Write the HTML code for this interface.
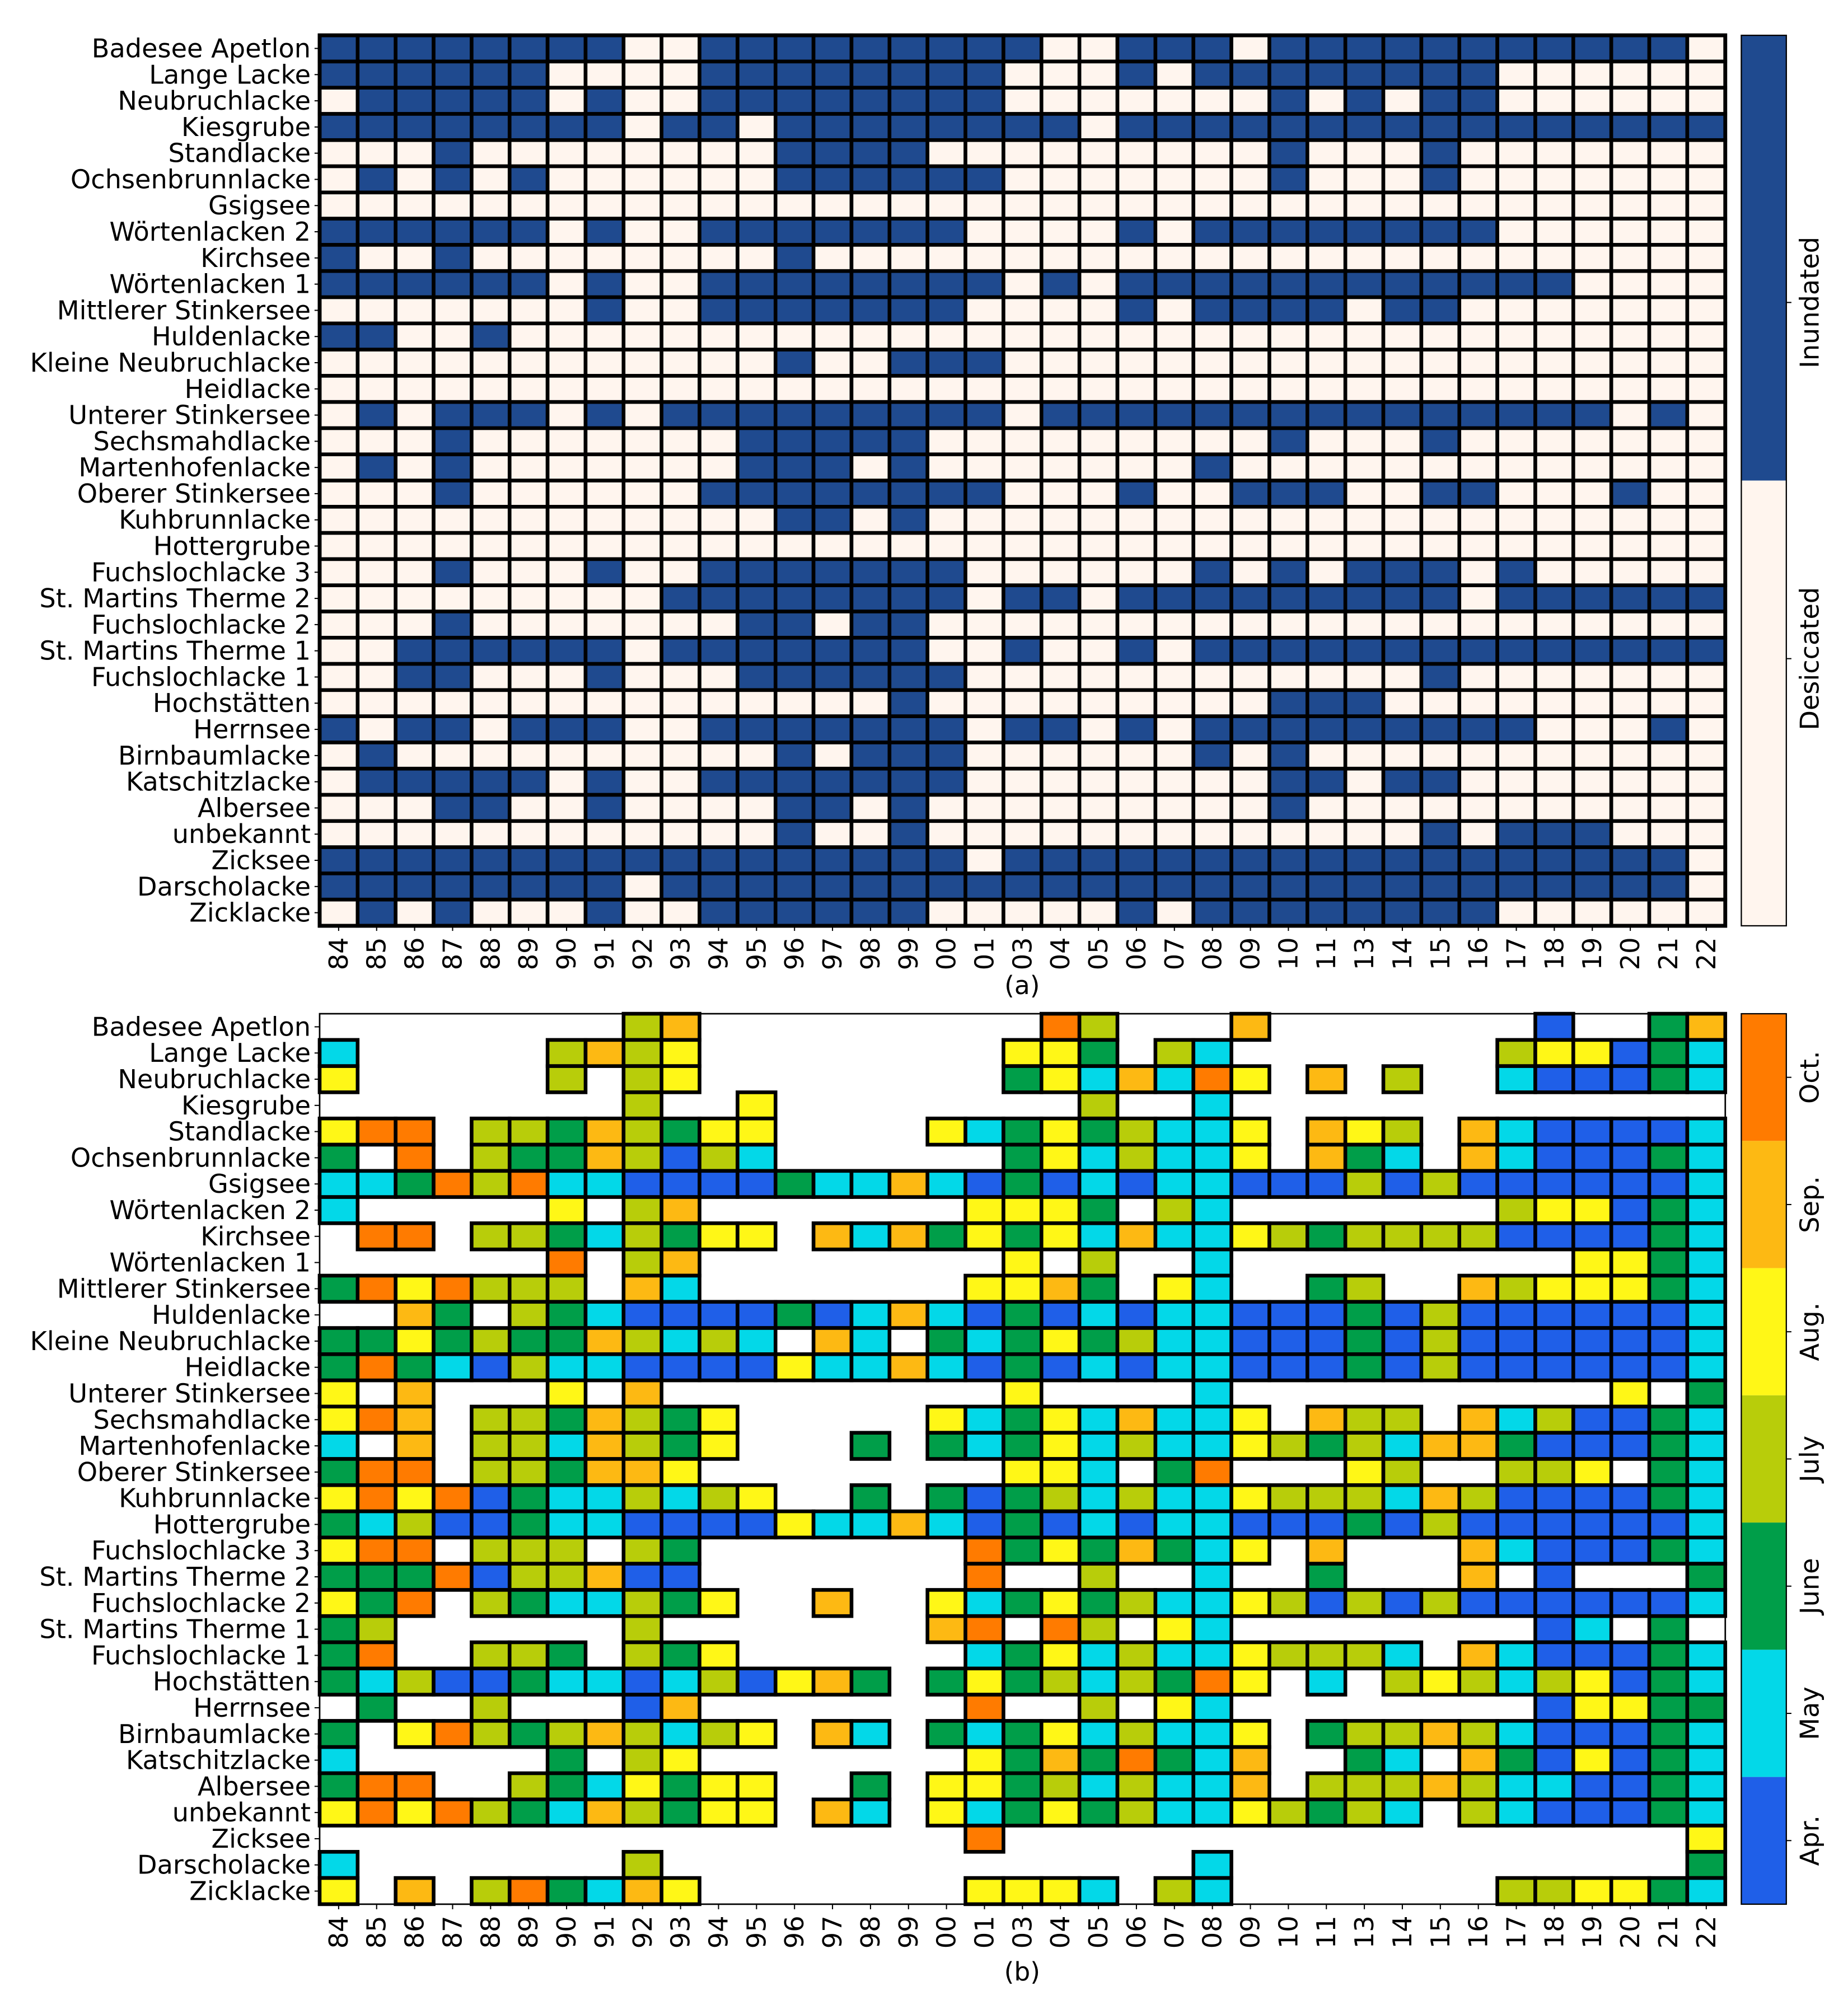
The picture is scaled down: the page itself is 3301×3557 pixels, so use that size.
<!DOCTYPE html>
<html>
<head>
<meta charset="utf-8">
<style>
  html,body{margin:0;padding:0;background:#fff;}
  svg{display:block;}
  text{font-family:"DejaVu Sans","Liberation Sans",sans-serif;fill:#000;}
</style>
</head>
<body>
<svg id="chart" xmlns="http://www.w3.org/2000/svg" width="3301" height="3557" viewBox="0 0 1450 1562.4">
  <g id="panelA"></g>
  <g id="panelB"></g>
  <g id="cbarA"></g>
  <g id="cbarB"></g>
  <text x="802" y="780" text-anchor="middle" font-size="20">(a)</text>
  <text x="802" y="1554" text-anchor="middle" font-size="20">(b)</text>
</svg>
<script>
const years = ["84","85","86","87","88","89","90","91","92","93","94","95","96","97","98","99","00","01","03","04","05","06","07","08","09","10","11","13","14","15","16","17","18","19","20","21","22"];
const lakes = ["Badesee Apetlon","Lange Lacke","Neubruchlacke","Kiesgrube","Standlacke","Ochsenbrunnlacke","Gsigsee","Wörtenlacken 2","Kirchsee","Wörtenlacken 1","Mittlerer Stinkersee","Huldenlacke","Kleine Neubruchlacke","Heidlacke","Unterer Stinkersee","Sechsmahdlacke","Martenhofenlacke","Oberer Stinkersee","Kuhbrunnlacke","Hottergrube","Fuchslochlacke 3","St. Martins Therme 2","Fuchslochlacke 2","St. Martins Therme 1","Fuchslochlacke 1","Hochstätten","Herrnsee","Birnbaumlacke","Katschitzlacke","Albersee","unbekannt","Zicksee","Darscholacke","Zicklacke"];
// 1 = inundated, 0 = desiccated
const inundation = [
"111111110011111111"+"1001110111111111110",
"111111000011111111"+"0001011111111000000",
"011111010011111111"+"0000000101011000000",
"111111110110111111"+"1101111111111111111",
"000100000000111100"+"0000000100010000000",
"010101000000111111"+"0000000100010000000",
"000000000000000000"+"0000000000000000000",
"111111010011111110"+"0001011111111000000",
"100100000000100000"+"0000000000000000000",
"111111010011111111"+"0101111111111110000",
"000000010011111110"+"0001011110110000000",
"110010000000000000"+"0000000000000000000",
"000000000000100111"+"0000000000000000000",
"000000000000000000"+"0000000000000000000",
"010111010111111111"+"0111111111111111010",
"000100000001111100"+"0000000100010000000",
"010100000001110100"+"0000010000000000000",
"000100000011111111"+"0001001110011000100",
"000000000000110100"+"0000000000000000000",
"000000000000000000"+"0000000000000000000",
"000100010011111110"+"0000010101110100000",
"000000000111111110"+"1101111111110111111",
"000100000001101100"+"0000000000000000000",
"001111110111111100"+"1001011111111111111",
"001100010001111110"+"0000000000010000000",
"000000000000000100"+"0000000111000000000",
"101101110011111110"+"1101011111111100010",
"010000000000101110"+"0000010100000000000",
"011111010011111110"+"0000000110110000000",
"000110010000110100"+"0000000100000000000",
"000000000000100100"+"0000000000010111000",
"111111111111111110"+"1111111111111111110",
"111111110111111111"+"1111111111111111110",
"010100010011111100"+"0001011111111000000"
];
// 0 = none, 1 Apr, 2 May, 3 June, 4 July, 5 Aug, 6 Sep, 7 Oct
const firstMonth = [
"000000004600000000"+"0740006000000010036",
"200000464500000000"+"5530420000000455132",
"500000404500000000"+"3526275060400211132",
"000000004005000000"+"0040020000000000000",
"577044364355000052"+"3534225065406211112",
"307043364142000000"+"3524225063206211132",
"223747221111322621"+"3121221114141111112",
"200000504600000005"+"5530420000000455132",
"077044324355062635"+"3526225434444111132",
"000000704600000000"+"5040020000000005532",
"375744406200000005"+"5630520034006455532",
"006304321111312621"+"3121221113141111112",
"335343364242062032"+"3534221113141111112",
"373214221111522621"+"3121221113141111112",
"506000506000000000"+"5000020000000000503",
"576044364350000052"+"3526225064406241132",
"206044264350003032"+"3524225434266311132",
"377044366500000000"+"5520370005400445032",
"575713224245003031"+"3424225444264111132",
"324113221111522621"+"3121221113141111112",
"577044404300000007"+"3536325060006211132",
"333714461100000007"+"0040020030006010003",
"537043224350060052"+"3534225414141111112",
"340000004000000067"+"0740520000000012030",
"370044304350000002"+"3524225444206211132",
"324113221241563035"+"3424375020454245132",
"030040001600000007"+"0040520000000015533",
"305743464245062032"+"3524225034464211132",
"200000304500000005"+"3637326003206315132",
"377004325355003055"+"3424226044464221132",
"575743264355062052"+"3534225434204211132",
"000000000000000007"+"0000000000000000005",
"200000004000000000"+"0000020000000000003",
"506047326500000005"+"5520420000000445532"
];
const stateLabels = ["Desiccated","Inundated"];
const stateColors = ["#fff5ee","#1f4a8f"];
const monthLabels = ["Apr.","May","June","July","Aug.","Sep.","Oct."];
const monthColors = ["#1f5fe8","#03d8e8","#009e49","#b8cd0a","#fff717","#fdb913","#ff7b00"];

const NS = "http://www.w3.org/2000/svg";
const X0 = 250.8, X1 = 1353.7;
const cw = (X1 - X0) / years.length;
const PH = 698.8;
const rh = PH / lakes.length;
const xPos = j => X0 + j * cw;
const yPos = (top, i) => top + i * rh;

function mk(tag, attrs, parent) {
  const el = document.createElementNS(NS, tag);
  for (const k in attrs) el.setAttribute(k, attrs[k]);
  parent.appendChild(el);
  return el;
}

function axes(g, top, prefix) {
  lakes.forEach((name, i) => {
    const y = yPos(top, i) + rh / 2;
    const tk = mk("line", {x1: X0 - 4, x2: X0, y1: y, y2: y, stroke: "#000", "stroke-width": 0.9}, g);
    
    
    const t = mk("text", {x: X0 - 7, y: y, "text-anchor": "end", "dominant-baseline": "central", "font-size": 20.3}, g);
    t.textContent = name;
    
    
  });
  const bottom = top + PH;
  years.forEach((yr, j) => {
    const x = xPos(j) + cw / 2;
    const tk = mk("line", {x1: x, x2: x, y1: bottom, y2: bottom + 4, stroke: "#000", "stroke-width": 0.9}, g);
    
    
    const t = mk("text", {x: x, y: bottom + 9, "text-anchor": "end", "dominant-baseline": "central", "font-size": 20.3, transform: "rotate(-90 " + x + " " + (bottom + 9) + ")"}, g);
    t.textContent = yr;
    
    
  });
}

// Panel A
(function(){
  const g = document.getElementById("panelA");
  const top = 27.7;
  inundation.forEach((row, i) => {
    for (let j = 0; j < years.length; j++) {
      const v = +row[j];
      const r = mk("rect", {x: xPos(j), y: yPos(top, i), width: cw, height: rh, fill: stateColors[v], stroke: "#000", "stroke-width": 2.9}, g);
      
      
    }
  });
  const fr = mk("rect", {x: X0, y: top, width: X1 - X0, height: PH, fill: "none", stroke: "#000", "stroke-width": 3}, g);
  
  
  axes(g, top, "a");
})();

// Panel B
(function(){
  const g = document.getElementById("panelB");
  const top = 795.5;
  const fr = mk("rect", {x: X0, y: top, width: X1 - X0, height: PH, fill: "#fff", stroke: "#000", "stroke-width": 1.2}, g);
  
  
  firstMonth.forEach((row, i) => {
    for (let j = 0; j < years.length; j++) {
      const v = +row[j];
      if (v === 0) continue;
      const r = mk("rect", {x: xPos(j), y: yPos(top, i), width: cw, height: rh, fill: monthColors[v - 1], stroke: "#000", "stroke-width": 2.9}, g);
      
      
    }
  });
  axes(g, top, "b");
})();

// Colorbars
const CX0 = 1366.3, CX1 = 1401.6;
function cbLabel(g, y, txt) {
  const tk = mk("line", {x1: CX1, x2: CX1 + 4, y1: y, y2: y, stroke: "#000", "stroke-width": 0.9}, g);
  
  
  const x = 1420;
  const t = mk("text", {x: x, y: y, "text-anchor": "middle", "dominant-baseline": "central", "font-size": 20.3, transform: "rotate(-90 " + x + " " + y + ")"}, g);
  t.textContent = txt;
  
  
}
(function(){
  const g = document.getElementById("cbarA");
  const top = 27.7, h = PH / 2;
  // top = Inundated, bottom = Desiccated
  [1, 0].forEach((s, k) => {
    const r = mk("rect", {x: CX0, y: top + k * h, width: CX1 - CX0, height: h, fill: stateColors[s]}, g);
    
    
  });
  const fr = mk("rect", {x: CX0, y: top, width: CX1 - CX0, height: PH, fill: "none", stroke: "#000", "stroke-width": 1}, g);
  
  
  cbLabel(g, top + PH * 0.3, stateLabels[1]);
  cbLabel(g, top + PH * 0.7, stateLabels[0]);
})();
(function(){
  const g = document.getElementById("cbarB");
  const top = 795.5, n = monthLabels.length, h = PH / n;
  for (let k = 0; k < n; k++) {
    const m = n - 1 - k;
    const r = mk("rect", {x: CX0, y: top + k * h, width: CX1 - CX0, height: h, fill: monthColors[m]}, g);
    
    
    cbLabel(g, top + k * h + h / 2, monthLabels[m]);
  }
  const fr = mk("rect", {x: CX0, y: top, width: CX1 - CX0, height: PH, fill: "none", stroke: "#000", "stroke-width": 1}, g);
  
  
})();
</script>
</body>
</html>
